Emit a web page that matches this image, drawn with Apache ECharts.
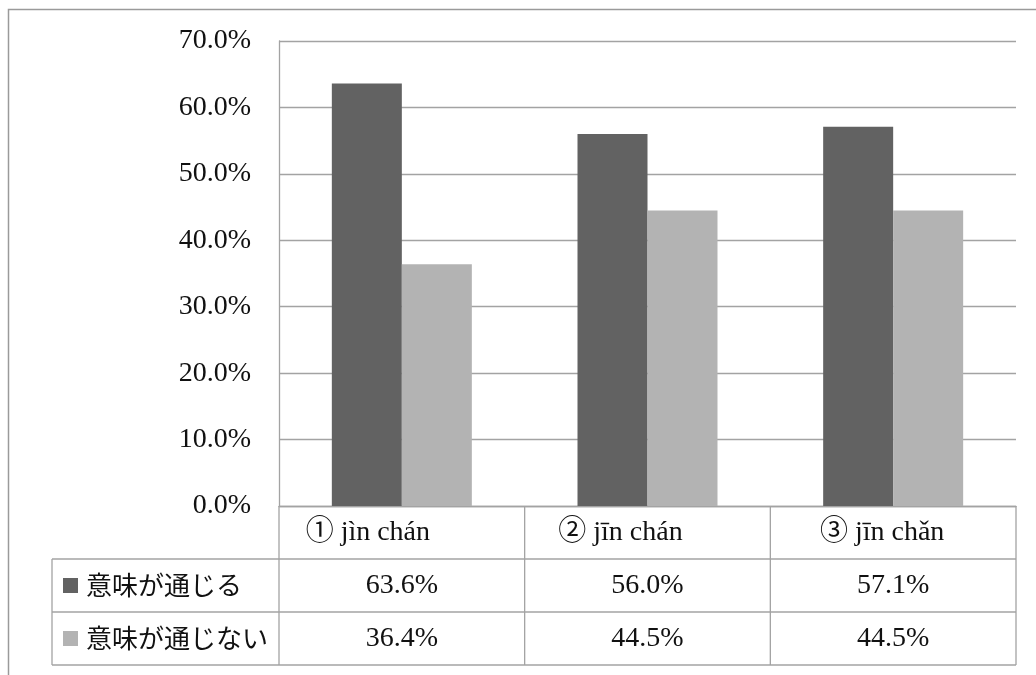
<!DOCTYPE html>
<html>
<head>
<meta charset="utf-8">
<style>
  html, body { margin: 0; padding: 0; background: #fff; }
  #chart { width: 1036px; height: 675px; }
</style>
<script src="https://cdn.jsdelivr.net/npm/echarts@6/dist/echarts.min.js"></script>
</head>
<body>
<div id="chart"></div>
<script>
// Categories (pronunciations) and the two response series, in percent
const categories = ['① jìn chán', '② jīn chán', '③ jīn chǎn'];
const seriesNames = ['意味が通じる', '意味が通じない'];
const understood = [63.6, 56.0, 57.1];
const notUnderstood = [36.4, 44.5, 44.5];
const yMax = 70;
const yInterval = 10;

const seriesColors = ['#626262', '#b3b3b3'];
const lineColor = '#a3a3a3';
const serif = "'Liberation Serif', 'Noto Sans CJK JP', serif";
const jp = "'Noto Sans CJK JP', sans-serif";

const chart = echarts.init(document.getElementById('chart'), null, { renderer: 'canvas' });

const grid = { left: 279, right: 20, top: 41, bottom: 169 };

chart.setOption({
  animation: false,
  grid: grid,
  xAxis: {
    type: 'category',
    data: categories,
    axisLine: { show: true, lineStyle: { color: lineColor, width: 1.3 } },
    axisTick: { show: false },
    axisLabel: { show: false },
    splitLine: { show: false }
  },
  yAxis: {
    type: 'value',
    min: 0,
    max: yMax,
    interval: yInterval,
    axisLine: { show: true, lineStyle: { color: lineColor, width: 1.3 } },
    axisTick: { show: false },
    axisLabel: {
      margin: 28,
      color: '#111',
      fontFamily: serif,
      fontSize: 28,
      formatter: v => v.toFixed(1) + '%'
    },
    splitLine: { show: true, lineStyle: { color: lineColor, width: 1.3 } }
  },
  series: [
    {
      name: seriesNames[0], type: 'bar', data: understood,
      barWidth: 70, barGap: '0%',
      itemStyle: { color: seriesColors[0] }
    },
    {
      name: seriesNames[1], type: 'bar', data: notUnderstood,
      barWidth: 70, barGap: '0%',
      itemStyle: { color: seriesColors[1] }
    }
  ]
});

// Data table under the plot: category row, then one row per series
function buildTable() {
  const centers = categories.map((c, i) => chart.convertToPixel({ xAxisIndex: 0 }, i));
  const band = centers[1] - centers[0];
  const x0 = centers[0] - band / 2;
  const xEnd = centers[centers.length - 1] + band / 2;
  const yBase = chart.convertToPixel({ yAxisIndex: 0 }, 0);
  const rowH = 53;
  const tableLeft = 52;
  const labelShift = [-34, -27, -11];
  const g = [];
  const line = (x1, y1, x2, y2) => g.push({
    type: 'line', silent: true,
    shape: { x1, y1, x2, y2 },
    style: { stroke: lineColor, lineWidth: 1.3 }
  });

  // outer frame of the whole figure
  g.push({
    type: 'rect', silent: true,
    shape: { x: 8.5, y: 9.5, width: 1200, height: 1000 },
    style: { fill: 'none', stroke: '#9a9a9a', lineWidth: 1.5 }
  });

  // horizontal rules
  line(tableLeft, yBase + rowH, xEnd, yBase + rowH);
  line(tableLeft, yBase + 2 * rowH, xEnd, yBase + 2 * rowH);
  line(tableLeft, yBase + 3 * rowH, xEnd, yBase + 3 * rowH);
  // vertical rules
  line(tableLeft, yBase + rowH, tableLeft, yBase + 3 * rowH);
  for (let i = 0; i <= categories.length; i++) {
    const x = x0 + i * band;
    line(x, yBase, x, yBase + 3 * rowH);
  }

  // category labels
  categories.forEach((c, i) => g.push({
    type: 'text', silent: true,
    style: {
      x: centers[i] + labelShift[i], y: yBase + rowH / 2,
      text: c, align: 'center', verticalAlign: 'middle',
      font: '28px ' + serif, fill: '#111'
    }
  }));

  // series rows
  [understood, notUnderstood].forEach((vals, r) => {
    const yc = yBase + rowH * (r + 1) + rowH / 2;
    g.push({
      type: 'rect', silent: true,
      shape: { x: 63, y: yc - 7.5, width: 15, height: 15 },
      style: { fill: seriesColors[r] }
    });
    g.push({
      type: 'text', silent: true,
      style: {
        x: 86, y: yc, text: seriesNames[r],
        align: 'left', verticalAlign: 'middle',
        font: '26px ' + jp, fill: '#111'
      }
    });
    vals.forEach((v, i) => g.push({
      type: 'text', silent: true,
      style: {
        x: centers[i], y: yc, text: v.toFixed(1) + '%',
        align: 'center', verticalAlign: 'middle',
        font: '28px ' + serif, fill: '#111'
      }
    }));
  });

  chart.setOption({ graphic: g });
}

buildTable();
</script>
</body>
</html>
